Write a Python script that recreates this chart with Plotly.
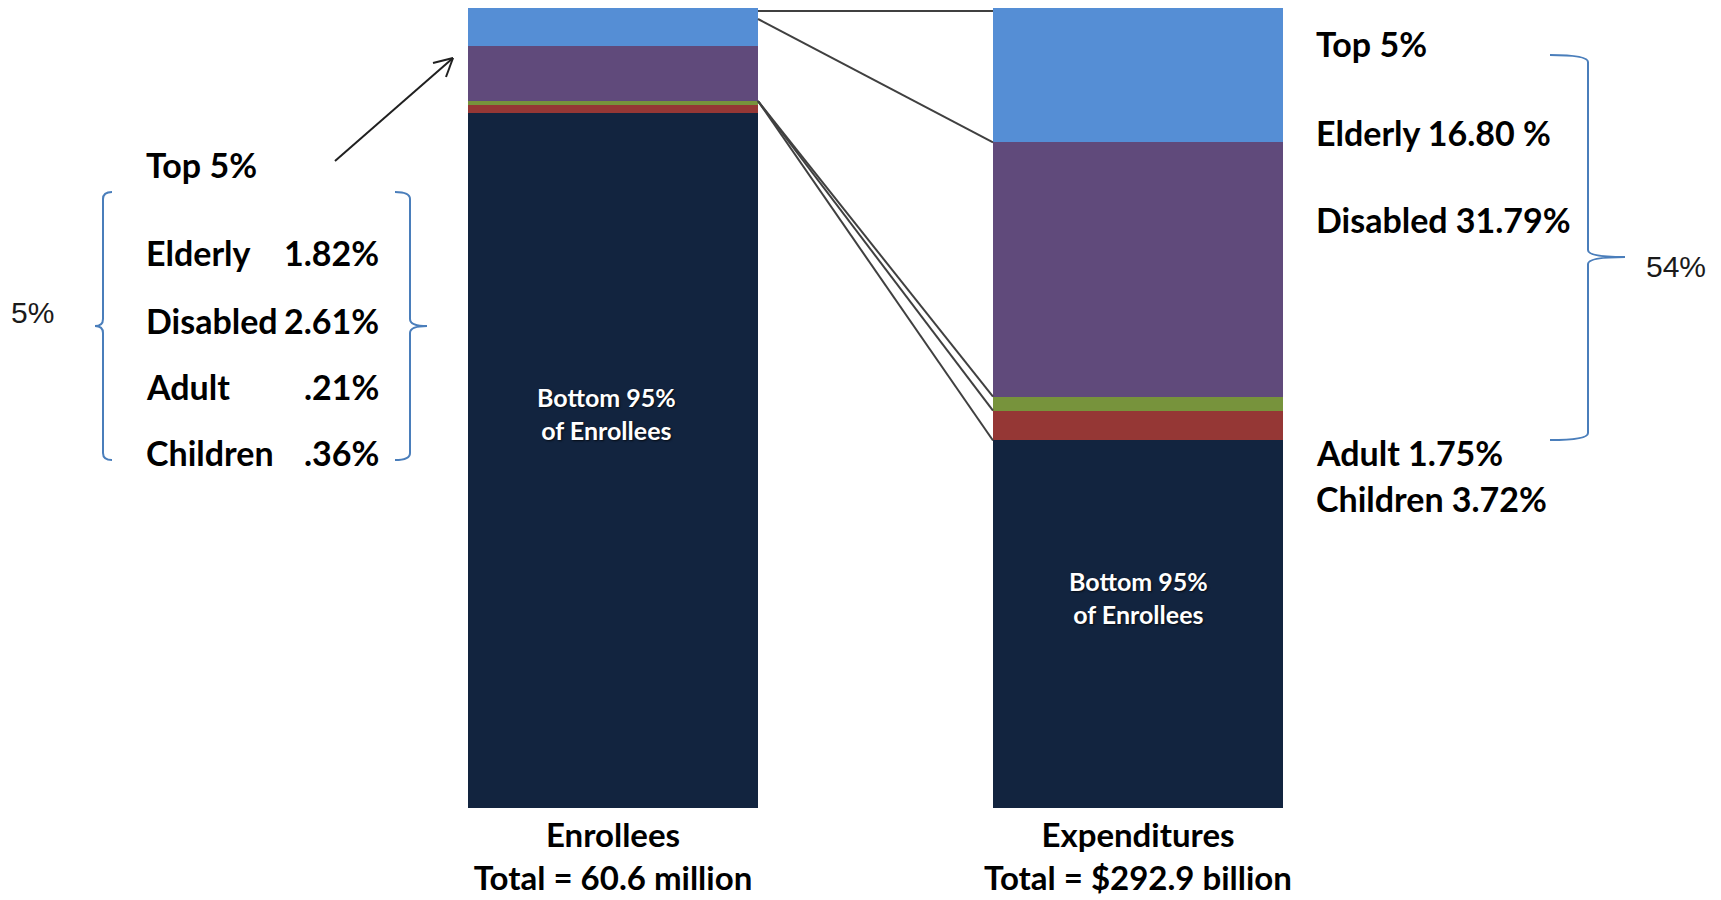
import numpy as np
import plotly.graph_objects as go

# ---- data -------------------------------------------------------------
groups = ["Elderly", "Disabled", "Adult", "Children"]
group_colors = ["#558ED5", "#604A7B", "#77933C", "#953735"]
bottom_color = "#12243F"

enrollee_share = [1.82, 2.61, 0.21, 0.36]     # % of enrollees in the top 5%
spending_share = [16.80, 31.79, 1.75, 3.72]   # % of expenditures they account for

categories = ["Enrollees", "Expenditures"]
totals = ["60.6 million", "$292.9 billion"]
bottom_label = "Bottom 95%<br>of Enrollees"

# ---- page geometry (pixels of the 1721x900 page) -------------------------
W, H = 1721, 900
BAR_TOP, BAR_BOTTOM = 8, 808
BREAK_Y = 113            # left bar: axis break between the bottom 95% and the top 5%
LEFT_X = (468, 758)
RIGHT_X = (993, 1283)


def fx(x):
    return x / W


def fy(y):
    return 1 - y / H


FONT = "Lato"
BOLD = dict(family=FONT, size=34, color="#000000", weight="bold")

# stacking order bottom -> top: bottom 95%, children, adult, disabled, elderly
stack_order = [3, 2, 1, 0]

enr_bottom = 100 - sum(enrollee_share)
exp_bottom = 100 - sum(spending_share)

fig = go.Figure()

# left bar: bottom 95% on the lower axis
fig.add_trace(go.Bar(
    x=[categories[0]], y=[enr_bottom], base=[0], width=1,
    marker=dict(color=bottom_color, line=dict(width=0)),
    xaxis="x", yaxis="y", hoverinfo="skip", showlegend=False,
))
# left bar: top 5% segments on the zoomed upper axis
enr_vals = [enrollee_share[i] for i in stack_order]
enr_base = enr_bottom + np.concatenate([[0], np.cumsum(enr_vals)[:-1]])
for i, b in zip(stack_order, enr_base):
    fig.add_trace(go.Bar(
        x=[categories[0]], y=[enrollee_share[i]], base=[b], width=1,
        marker=dict(color=group_colors[i], line=dict(width=0)),
        xaxis="x", yaxis="y2", hoverinfo="skip", showlegend=False,
    ))

# right bar: expenditures
exp_vals = [exp_bottom] + [spending_share[i] for i in stack_order]
exp_cols = [bottom_color] + [group_colors[i] for i in stack_order]
exp_base = np.concatenate([[0], np.cumsum(exp_vals)[:-1]])
for v, b, c in zip(exp_vals, exp_base, exp_cols):
    fig.add_trace(go.Bar(
        x=[categories[1]], y=[v], base=[b], width=1,
        marker=dict(color=c, line=dict(width=0)),
        xaxis="x2", yaxis="y3", hoverinfo="skip", showlegend=False,
    ))

y_low_dom = [fy(BAR_BOTTOM), fy(BREAK_Y)]
y_top_dom = [fy(BREAK_Y), fy(BAR_TOP)]
y_right_dom = [fy(BAR_BOTTOM), fy(BAR_TOP)]
y_low_rng = [0, enr_bottom]
y_top_rng = [enr_bottom, 100]
y_right_rng = [0, 100]


def left_paper(v):
    if v <= enr_bottom:
        d, r = y_low_dom, y_low_rng
    else:
        d, r = y_top_dom, y_top_rng
    return d[0] + (v - r[0]) / (r[1] - r[0]) * (d[1] - d[0])


def right_paper(v):
    d, r = y_right_dom, y_right_rng
    return d[0] + (v - r[0]) / (r[1] - r[0]) * (d[1] - d[0])


hidden_y = dict(visible=False, fixedrange=True)
tick_font = dict(family=FONT, size=33, color="#000000", weight="bold")
x_common = dict(type="category", range=[-0.5, 0.5], tickfont=tick_font,
                showgrid=False, zeroline=False, showline=False, ticks="",
                ticklabelstandoff=5, automargin=False, fixedrange=True)

fig.update_layout(
    width=W, height=H,
    margin=dict(l=0, r=0, t=0, b=0),
    paper_bgcolor="white", plot_bgcolor="rgba(0,0,0,0)",
    barmode="overlay", bargap=0,
    showlegend=False,
    xaxis=dict(domain=[fx(LEFT_X[0]), fx(LEFT_X[1])], anchor="y",
               tickvals=[categories[0]],
               ticktext=[f"{categories[0]}<br>Total = {totals[0]}"],
               **x_common),
    xaxis2=dict(domain=[fx(RIGHT_X[0]), fx(RIGHT_X[1])], anchor="y3",
                tickvals=[categories[1]],
                ticktext=[f"{categories[1]}<br>Total = {totals[1]}"],
                **x_common),
    yaxis=dict(domain=y_low_dom, range=y_low_rng, anchor="x", **hidden_y),
    yaxis2=dict(domain=y_top_dom, range=y_top_rng, anchor="x", **hidden_y),
    yaxis3=dict(domain=y_right_dom, range=y_right_rng, anchor="x2", **hidden_y),
)

# ---- connector lines between the bars --------------------------------
line_style = dict(color="#404040", width=2)
xl, xr = fx(LEFT_X[1]), fx(RIGHT_X[0])
connectors = [
    (left_paper(100) - 3 / H, right_paper(100) - 3 / H),
    (left_paper(100) - 11 / H, right_paper(100 - spending_share[0])),
]
split_left = enr_bottom + enrollee_share[3] + enrollee_share[2]
for v in [exp_bottom + spending_share[3] + spending_share[2],
          exp_bottom + spending_share[3],
          exp_bottom]:
    connectors.append((left_paper(split_left), right_paper(v)))
for y0, y1 in connectors:
    fig.add_shape(type="line", xref="paper", yref="paper",
                  x0=xl, y0=y0, x1=xr, y1=y1, line=line_style)

# ---- arrow pointing at the top 5% of enrollees -------------------------
arrow_style = dict(color="#202020", width=2)
tail, tip = (335, 161), (453, 58)
fig.add_shape(type="line", xref="paper", yref="paper",
              x0=fx(tail[0]), y0=fy(tail[1]), x1=fx(tip[0]), y1=fy(tip[1]),
              line=arrow_style)
for bx, by in [(433, 63), (446, 77)]:
    fig.add_shape(type="line", xref="paper", yref="paper",
                  x0=fx(bx), y0=fy(by), x1=fx(tip[0]), y1=fy(tip[1]),
                  line=arrow_style)


# ---- braces -------------------------------------------------------------
def brace_path(x_end, x_mid, x_tip, y_top, y_mid, y_bot, r=7):
    pts = [
        f"M {fx(x_end)},{fy(y_top)}",
        f"Q {fx(x_mid)},{fy(y_top)} {fx(x_mid)},{fy(y_top + r)}",
        f"L {fx(x_mid)},{fy(y_mid - r)}",
        f"Q {fx(x_mid)},{fy(y_mid)} {fx(x_tip)},{fy(y_mid)}",
        f"Q {fx(x_mid)},{fy(y_mid)} {fx(x_mid)},{fy(y_mid + r)}",
        f"L {fx(x_mid)},{fy(y_bot - r)}",
        f"Q {fx(x_mid)},{fy(y_bot)} {fx(x_end)},{fy(y_bot)}",
    ]
    return " ".join(pts)


brace_style = dict(color="#4A7EBB", width=2)
for args in [(112, 103, 95, 192, 326, 460),
             (395, 410, 427, 192, 326, 460),
             (1550, 1588, 1625, 55, 257, 440)]:
    fig.add_shape(type="path", xref="paper", yref="paper",
                  path=brace_path(*args), line=brace_style)


# ---- text ---------------------------------------------------------------
def note(text, x, y, anchor="left", font=None):
    fig.add_annotation(text=text, x=fx(x), y=fy(y), xref="paper", yref="paper",
                       xanchor=anchor, yanchor="middle", showarrow=False,
                       font=font or BOLD)


def pct(v):
    s = f"{v:.2f}%"
    return s[1:] if s.startswith("0") else s


# enrollee breakdown on the left
note("Top 5%", 144, 164)
for g, v, y in zip(groups, enrollee_share, [253, 320, 387, 453]):
    note(g, 144, y)
    note(pct(v), 381, y, anchor="right")
note(f"{round(sum(enrollee_share))}%", 9, 312,
     font=dict(family="Liberation Sans", size=30, color="#1A1A1A"))

# expenditure breakdown on the right
exp_fmt = ["{} {:.2f} %", "{} {:.2f}%", "{} {:.2f}%", "{} {:.2f}%"]
note("Top 5%", 1314, 44)
for g, v, f, y in zip(groups, spending_share, exp_fmt, [132, 219, 453, 498]):
    note(f.format(g, v), 1314, y)
note(f"{round(sum(spending_share))}%", 1644, 266,
     font=dict(family="Liberation Sans", size=30, color="#1A1A1A"))

# labels inside the bottom segments
inner_font = dict(family=FONT, size=25, color="white", weight="bold",
                  shadow="1px 1px 2px rgba(0,0,0,0.7)")
note(bottom_label, (LEFT_X[0] + LEFT_X[1]) / 2 - 7, 413, anchor="center", font=inner_font)
note(bottom_label, (RIGHT_X[0] + RIGHT_X[1]) / 2, 597, anchor="center", font=inner_font)

fig.write_html("out.html")
